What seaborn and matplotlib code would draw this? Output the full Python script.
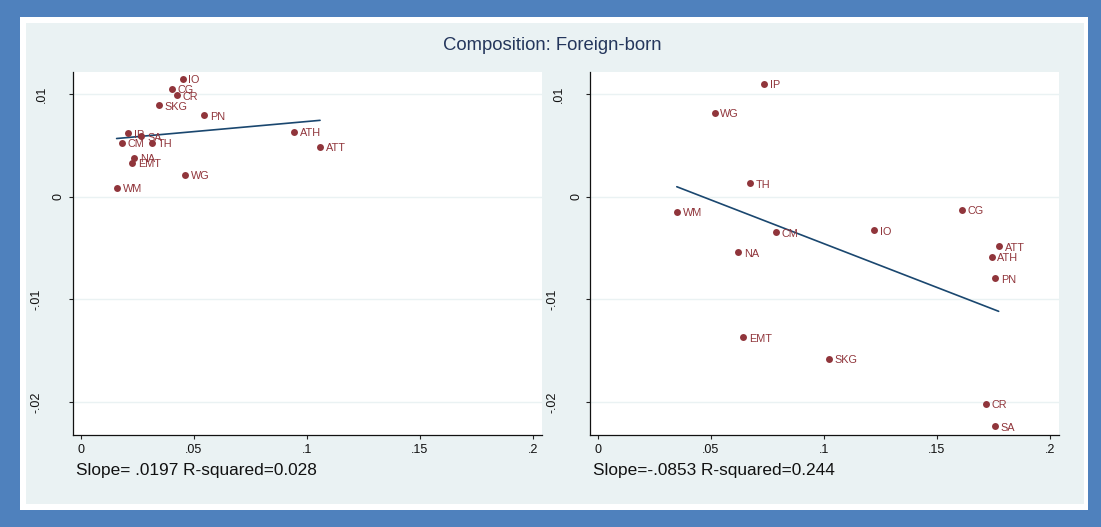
import numpy as np
import pandas as pd
import matplotlib
matplotlib.use("Agg")
import matplotlib.pyplot as plt
import seaborn as sns
from matplotlib.patches import Rectangle
from matplotlib.transforms import ScaledTranslation

# ---- data -------------------------------------------------------------
title = "Composition: Foreign-born"

codes_left = ["IO", "CG", "CR", "SKG", "PN", "IP", "SA", "CM", "TH",
              "ATH", "ATT", "NA", "EMT", "WG", "WM"]
x_left = [0.0450, 0.0401, 0.0423, 0.0344, 0.0544, 0.0207, 0.0268, 0.0180,
          0.0314, 0.0942, 0.1058, 0.0236, 0.0226, 0.0460, 0.0158]
y_left = [0.01150, 0.01053, 0.00988, 0.00893, 0.00793, 0.00621, 0.00591,
          0.00526, 0.00526, 0.00634, 0.00490, 0.00383, 0.00334, 0.00217,
          0.00085]

codes_right = ["IP", "WG", "TH", "WM", "CG", "IO", "CM", "NA", "ATT",
               "ATH", "PN", "EMT", "SKG", "CR", "SA"]
x_right = [0.0734, 0.0516, 0.0673, 0.0349, 0.1611, 0.1221, 0.0787, 0.0619,
           0.1773, 0.1742, 0.1756, 0.0644, 0.1023, 0.1717, 0.1756]
y_right = [0.01101, 0.00822, 0.00133, -0.00146, -0.00124, -0.00325,
           -0.00344, -0.00539, -0.00484, -0.00585, -0.00793, -0.01371,
           -0.01579, -0.02018, -0.02239]

slopes = [0.0197, -0.0853]
r_squared = [0.028, 0.244]

x_ticks = [0, 0.05, 0.1, 0.15, 0.2]
y_ticks = [-0.02, -0.01, 0, 0.01]

# ---- style ------------------------------------------------------------
sns.set_theme(style="white")
plt.rcParams["font.family"] = ["Liberation Sans", "DejaVu Sans"]

MAROON = "#90353B"
NAVY = "#1A476F"
PANEL = "#EAF2F3"
BORDER = "#4F81BD"

W, H = 1101, 527
fig = plt.figure(figsize=(W / 100, H / 100), dpi=100, facecolor=BORDER)


def fig_rect(x0, y0, x1, y1):
    """Rectangle in pixel units measured from the top-left corner."""
    return [x0 / W, 1 - y1 / H, (x1 - x0) / W, (y1 - y0) / H]


for box, col in [((20, 17, 1088, 510), "white"), ((26, 23, 1084, 504), PANEL)]:
    l, b, w, h = fig_rect(*box)
    fig.patches.append(Rectangle((l, b), w, h, transform=fig.transFigure,
                                 facecolor=col, edgecolor="none", zorder=-5))


def stata_num(v):
    s = f"{v:g}"
    return s.replace("0.", ".")


def draw_panel(ax, codes, xs, ys, slope, r2, note_x):
    df = pd.DataFrame({"code": codes, "x": xs, "y": ys})
    ax.set_facecolor("white")

    sns.scatterplot(data=df, x="x", y="y", ax=ax, color=MAROON, s=25,
                    linewidth=0, zorder=3, legend=False)
    for _, r in df.iterrows():
        ax.annotate(r["code"], (r["x"], r["y"]), xytext=(4.2, -1.0),
                    textcoords="offset points", fontsize=7.8, color=MAROON,
                    ha="left", va="center", zorder=4)

    # fitted line through the centroid with the reported slope
    mx, my = df["x"].mean(), df["y"].mean()
    lx = np.array([df["x"].min(), df["x"].max()])
    ly = my + slope * (lx - mx)
    sns.lineplot(x=lx, y=ly, ax=ax, color=NAVY, lw=1.2, zorder=2)

    ax.set_xlim(-0.0035, 0.2040)
    ax.set_ylim(-0.02322, 0.01217)
    ax.set_xticks(x_ticks)
    ax.set_xticklabels([stata_num(v) for v in x_ticks], fontsize=9,
                       color="#111111")
    ax.set_yticks(y_ticks)
    ax.set_yticklabels([])
    ax.tick_params(axis="x", bottom=True, length=3.2, width=0.8,
                   color="#222222", pad=3.2)
    ax.tick_params(axis="y", left=True, length=3.2, width=0.8,
                   color="#222222")
    ax.yaxis.grid(True, color=PANEL, lw=1.0)
    ax.xaxis.grid(False)
    ax.set_axisbelow(True)
    for side in ["top", "right"]:
        ax.spines[side].set_visible(False)
    for side in ["left", "bottom"]:
        ax.spines[side].set_color("#111111")
        ax.spines[side].set_linewidth(0.9)
    ax.set_xlabel("")
    ax.set_ylabel("")

    # vertical y tick labels, set further out the longer they are
    for v in y_ticks:
        lab = stata_num(v)
        off = min(8.5 * len(lab) + 5.5, 37.0)
        tr = ax.get_yaxis_transform() + ScaledTranslation(-off / 100, 0,
                                                          fig.dpi_scale_trans)
        ax.text(0, v, lab, transform=tr, rotation=90, ha="center",
                va="center", fontsize=9, color="#111111")

    slope_txt = f"{slope:.4f}".replace("0.", ".")
    if slope >= 0:
        slope_txt = " " + slope_txt
    fig.text(note_x / W, 1 - 471 / H,
             f"Slope={slope_txt} R-squared={r2:.3f}",
             ha="left", va="center", fontsize=12.4, color="#111111")


ax_l = fig.add_axes(fig_rect(73, 72, 542, 435))
ax_r = fig.add_axes(fig_rect(590, 72, 1059, 435))
draw_panel(ax_l, codes_left, x_left, y_left, slopes[0], r_squared[0], 76)
draw_panel(ax_r, codes_right, x_right, y_right, slopes[1], r_squared[1], 593)

fig.text(552 / W, 1 - 46 / H, title, ha="center", va="center",
         fontsize=13.3, color="#24365C")

fig.savefig("out.png", dpi=100, facecolor=fig.get_facecolor())
